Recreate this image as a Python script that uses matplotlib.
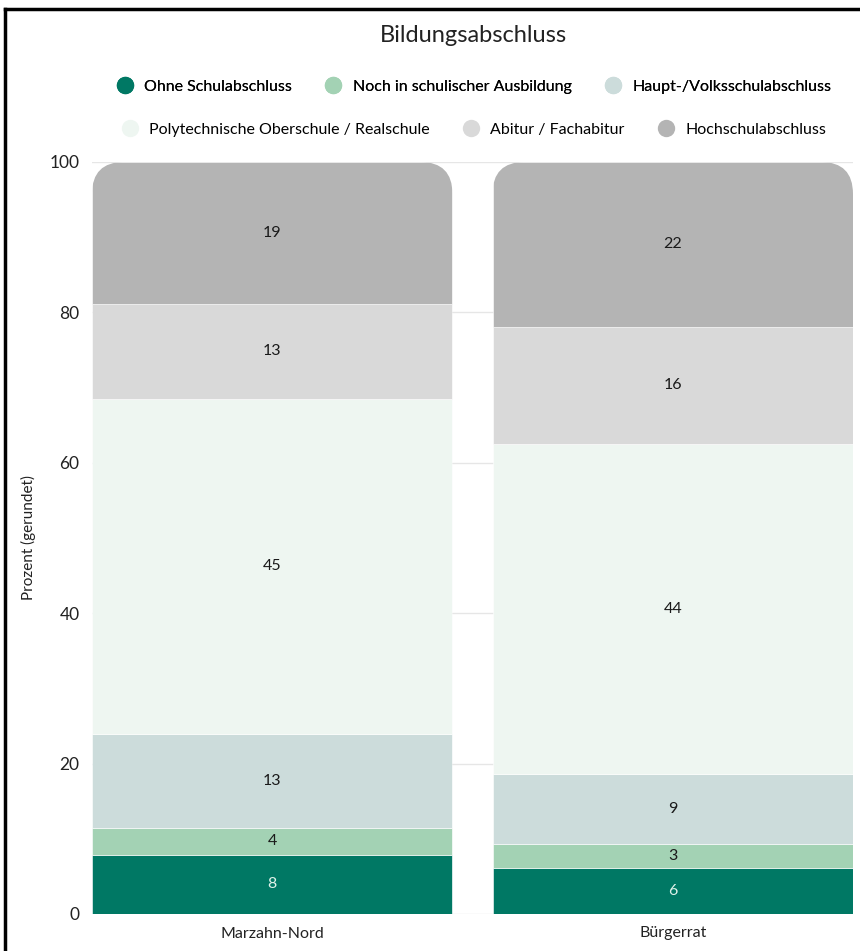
import matplotlib
matplotlib.use("Agg")
from matplotlib import pyplot as plt
from matplotlib.patches import FancyBboxPatch
from matplotlib.lines import Line2D
import numpy as np

plt.rcParams['font.family'] = ['Lato', 'DejaVu Sans']

groups = ['Marzahn-Nord', 'Bürgerrat']
categories = ['Ohne Schulabschluss', 'Noch in schulischer Ausbildung',
              'Haupt-/Volksschulabschluss', 'Polytechnische Oberschule / Realschule',
              'Abitur / Fachabitur', 'Hochschulabschluss']
# segment heights (percent)
marzahn = [7.85, 3.6, 12.5, 44.6, 12.6, 18.85]
buergerrat = [6.1, 3.2, 9.3, 43.9, 15.6, 21.9]
labels_marzahn = ['8', '4', '13', '45', '13', '19']
labels_buergerrat = ['6', '3', '9', '44', '16', '22']
colors = ['#007864', '#a3d2b4', '#ccdcdb', '#eef6f1', '#d9d9d9', '#b4b4b4']
text_colors = ['#dff2ea', '#1a1a1a', '#1a1a1a', '#1a1a1a', '#1a1a1a', '#1a1a1a']

fig = plt.figure(figsize=(8.6, 9.51), dpi=100)
ax = fig.add_axes([92 / 860, 37 / 951, 761 / 860, 752 / 951])

x = np.arange(len(groups))
width = 0.9
ax.set_xlim(-0.45, 1.45)
ax.set_ylim(0, 100)

data = np.array([marzahn, buergerrat])
labels = [labels_marzahn, labels_buergerrat]

# rounded clip shape for each bar (pixel coords)
fig.canvas.draw()
clips = []
for i in range(len(groups)):
    x0, y0 = ax.transData.transform((x[i] - width / 2, -10))
    x1, y1 = ax.transData.transform((x[i] + width / 2, 100))
    p = FancyBboxPatch((x0, y0), x1 - x0, y1 - y0,
                       boxstyle="round,pad=0,rounding_size=32",
                       transform=None, facecolor='none', edgecolor='none')
    clips.append(p)

bottom = np.zeros(len(groups))
for j, cat in enumerate(categories):
    vals = data[:, j]
    bars = ax.bar(x, vals, width, bottom=bottom, color=colors[j],
                  edgecolor='white', linewidth=0.4, zorder=3)
    for i, b in enumerate(bars):
        b.set_clip_path(clips[i])
        ax.text(x[i], bottom[i] + vals[i] / 2, labels[i][j], ha='center',
                va='center', fontsize=11.5, color=text_colors[j], zorder=4)
    bottom += vals

ax.set_yticks([0, 20, 40, 60, 80, 100])
ax.yaxis.grid(True, color='#e6e6e6', linewidth=1, zorder=0)
ax.set_axisbelow(True)
for s in ax.spines.values():
    s.set_visible(False)
ax.tick_params(axis='both', length=0, labelsize=12.5, colors='#222222')
ax.tick_params(axis='y', pad=9)
ax.set_xticks(x)
ax.set_xticklabels(groups, fontsize=11.5)
ax.tick_params(axis='x', pad=9)
ax.set_ylabel('Prozent (gerundet)', fontsize=11, color='#222222', labelpad=10)

fig.text(473 / 860, 1 - 36 / 951, 'Bildungsabschluss', ha='center', va='center',
         fontsize=17, color='#222222')

handles = [Line2D([0], [0], marker='o', linestyle='none', markersize=12.5,
                  markerfacecolor=c, markeredgecolor='none') for c in colors]
leg1 = fig.legend(handles[:3], categories[:3], loc='center', ncol=3,
                  bbox_to_anchor=(470 / 860, 1 - 87 / 951), frameon=False,
                  fontsize=11.5, handletextpad=0.2, columnspacing=1.6)
leg2 = fig.legend(handles[3:], categories[3:], loc='center', ncol=3,
                  bbox_to_anchor=(470 / 860, 1 - 130 / 951), frameon=False,
                  fontsize=11.5, handletextpad=0.2, columnspacing=1.6)
fig.add_artist(leg1)

# screenshot frame (top and left edges)
fig.add_artist(Line2D([5 / 860, 5 / 860], [0, 1 - 9 / 951], color='black',
                      linewidth=2.5, transform=fig.transFigure))
fig.add_artist(Line2D([5 / 860, 1], [1 - 9 / 951, 1 - 9 / 951], color='black',
                      linewidth=2.5, transform=fig.transFigure))

fig.savefig('out.png', dpi=100)
